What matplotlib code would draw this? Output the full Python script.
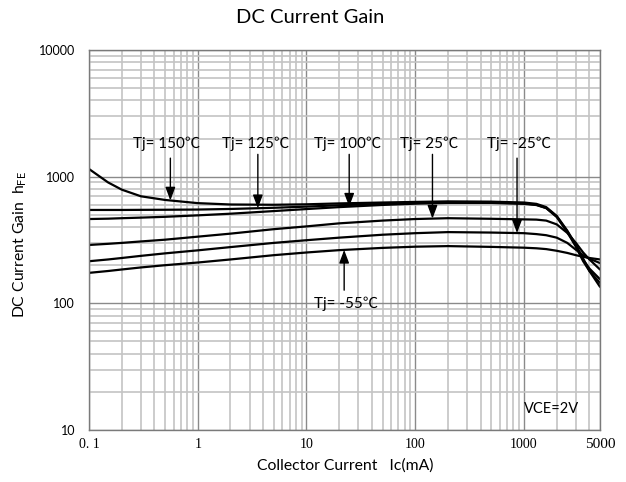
import numpy as np
import matplotlib
matplotlib.use("Agg")
import matplotlib.pyplot as plt
from matplotlib.ticker import FixedLocator, LogLocator, NullFormatter

plt.rcParams['font.family'] = ['Lato', 'Noto Sans CJK SC', 'DejaVu Sans']
plt.rcParams['mathtext.fontset'] = 'custom'
plt.rcParams['mathtext.rm'] = 'Lato'

# collector current (mA), shared by all curves
ic = [0.1, 0.15, 0.2, 0.3, 0.5, 1, 2, 5, 10, 20, 50, 100, 200, 500,
      1000, 1300, 1600, 2000, 2500, 3000, 3500, 4000, 5000]

# hFE, one list per junction temperature
hfe_150 = [1150, 900, 790, 700, 655, 618, 603, 600, 605, 615, 625, 632, 638, 635,
           625, 610, 575, 490, 375, 290, 225, 180, 135]
hfe_125 = [546, 546, 546, 547, 548, 550, 556, 568, 580, 595, 610, 620, 628, 625,
           615, 600, 565, 480, 365, 280, 215, 180, 145]
hfe_100 = [463, 466, 470, 475, 482, 495, 510, 535, 555, 575, 598, 612, 620, 620,
           610, 597, 565, 485, 370, 285, 222, 188, 155]
hfe_25 = [289, 295, 300, 308, 318, 336, 355, 385, 405, 428, 450, 463, 470, 465,
          460, 458, 450, 420, 360, 300, 252, 222, 185]
hfe_m25 = [215, 222, 228, 237, 248, 262, 278, 300, 315, 330, 348, 358, 365, 362,
           358, 352, 345, 330, 300, 265, 240, 225, 208]
hfe_m55 = [174, 180, 185, 192, 200, 210, 222, 240, 252, 263, 274, 280, 283, 279,
           275, 272, 268, 260, 250, 240, 233, 228, 222]

curves = [('Tj= 150℃', hfe_150), ('Tj= 125℃', hfe_125), ('Tj= 100℃', hfe_100),
          ('Tj= 25℃', hfe_25), ('Tj= -25℃', hfe_m25), ('Tj= -55℃', hfe_m55)]

# where each arrow sits (mA), where its tail starts (hFE), and label position
arrow_x = [0.56, 3.57, 24.7, 144, 863, 22.2]
arrow_tail = [1400, 1500, 1500, 1500, 1400, 127]
label_pos = [(0.52, 1820), (3.4, 1820), (24, 1820), (135, 1820), (900, 1820), (23, 100)]

xticks = [0.1, 1, 10, 100, 1000, 5000]
xtick_labels = ['0. 1', '1', '10', '100', '1000', '5000']
yticks = [10, 100, 1000, 10000]
ytick_labels = ['10', '100', '1000', '10000']

fig = plt.figure(figsize=(6.26, 4.82), dpi=100)
ax = fig.add_axes([89 / 626, 1 - 430 / 482, 511 / 626, 380 / 482])
ax.set_xscale('log')
ax.set_yscale('log')
ax.set_xlim(0.1, 5000)
ax.set_ylim(10, 10000)

ax.xaxis.set_major_locator(FixedLocator([0.1, 1, 10, 100, 1000]))
ax.xaxis.set_minor_locator(LogLocator(base=10, subs=np.arange(2, 10)))
ax.yaxis.set_minor_locator(LogLocator(base=10, subs=np.arange(2, 10)))
ax.xaxis.set_minor_formatter(NullFormatter())
ax.yaxis.set_minor_formatter(NullFormatter())
ax.grid(True, which='minor', color='#c4c4c4', lw=1.2)
ax.grid(True, which='major', color='#8a8a8a', lw=1.0)
ax.set_axisbelow(True)
for s in ax.spines.values():
    s.set_color('#7a7a7a')
    s.set_linewidth(1.0)

ax.set_xticks(xticks)
ax.set_xticklabels(xtick_labels, family='Liberation Serif', fontsize=10)
ax.set_yticks(yticks)
ax.set_yticklabels(ytick_labels, fontsize=9)
ax.tick_params(which='both', length=0)
ax.tick_params(axis='x', pad=6)
ax.tick_params(axis='y', pad=10)
last = ax.get_xticklabels()[-1]
last.set_fontsize(11)

for (name, h), xa, yt, (lx, ly) in zip(curves, arrow_x, arrow_tail, label_pos):
    ax.plot(ic, h, color='black', lw=1.6, solid_capstyle='round')
    tip = np.exp(np.interp(np.log(xa), np.log(ic), np.log(h)))
    ax.annotate('', xy=(xa, tip), xytext=(xa, yt),
                arrowprops=dict(arrowstyle='-|>,head_width=0.3,head_length=0.8',
                                color='black', lw=1.0, shrinkA=0, shrinkB=0))
    ax.text(lx, ly, name, ha='center', va='center', fontsize=11)

ax.text(1800, 14.7, 'VCE=2V', ha='center', va='center', fontsize=10.5)

fig.text(0.495, 0.963, 'DC Current Gain', ha='center', va='center', fontsize=14.5)
fig.text(345 / 626, 1 - 466 / 482, 'Collector Current   Ic(mA)',
         ha='center', va='center', fontsize=11.3)
fig.text(20 / 626, 1 - 244 / 482, r'DC Current Gain  $\mathrm{h}_{\mathrm{FE}}$',
         ha='center', va='center', rotation=90, fontsize=11.3)

fig.savefig('out.png', dpi=100)
